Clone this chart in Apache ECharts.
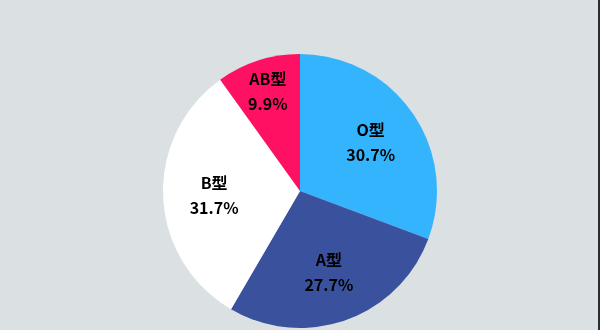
<!DOCTYPE html>
<html><head><meta charset="utf-8">
<script src="https://cdn.jsdelivr.net/npm/echarts@6/dist/echarts.min.js"></script>
<style>html,body{margin:0;padding:0;background:#DBE0E3;}#c{width:600px;height:330px;}</style>
</head><body><div id="c"></div>
<script>
var categories = ['O型', 'A型', 'B型', 'AB型'];
var values = [30.7, 27.7, 31.7, 9.9];
var colors = ['#35B4FE', '#3A519D', '#FFFFFF', '#FE1162'];

var chart = echarts.init(document.getElementById('c'));
function mk(showFn) {
  return categories.map(function (c, i) {
    return { name: c, value: values[i], label: { show: showFn(i) } };
  });
}
var labelStyle = {
  position: 'inside',
  formatter: function (p) { return p.name + '\n' + p.value.toFixed(1) + '%'; },
  fontFamily: '"Noto Sans CJK SC", "Noto Sans", sans-serif',
  fontWeight: 'bold', fontSize: 16, lineHeight: 25, color: '#000'
};
chart.setOption({
  backgroundColor: '#DBE0E3',
  animation: false,
  graphic: [{ type: 'rect', shape: { x: 598, y: 0, width: 2, height: 330 }, style: { fill: '#2a2e33' } }],
  series: [
    {
      type: 'pie', center: [300, 191], radius: [0, 137], startAngle: 90, clockwise: true,
      label: { show: false }, labelLine: { show: false }, silent: true,
      itemStyle: { color: function (p) { return colors[p.dataIndex]; } },
      data: mk(function () { return false; })
    },
    {
      type: 'pie', center: [300, 191], radius: [0, 166], startAngle: 90, clockwise: true,
      label: labelStyle, labelLine: { show: false }, silent: true,
      itemStyle: { color: 'rgba(0,0,0,0)' },
      data: mk(function (i) { return i !== 3; })
    },
    {
      type: 'pie', center: [300, 191], radius: [0, 204], startAngle: 90, clockwise: true,
      label: labelStyle, labelLine: { show: false }, silent: true,
      itemStyle: { color: 'rgba(0,0,0,0)' },
      data: mk(function (i) { return i === 3; })
    }
  ]
});
</script></body></html>
